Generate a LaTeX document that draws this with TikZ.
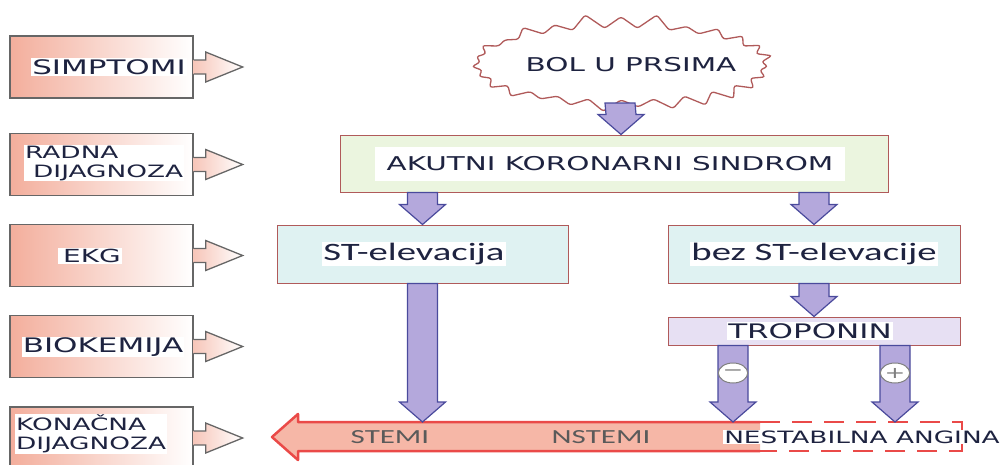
\documentclass[tikz,border=0pt]{standalone}
\usepackage{fontspec}
\setmainfont{DejaVu Sans}[FakeStretch=1.55]
\newfontfamily\califont{Carlito}[FakeStretch=1.55]
\usetikzlibrary{positioning,calc,shapes.symbols,shapes.geometric}

\definecolor{salmon}{HTML}{F3AE9C}
\definecolor{sidegray}{HTML}{666666}
\definecolor{inkblue}{HTML}{1E2340}
\definecolor{lavender}{HTML}{B4A8DC}
\definecolor{lavedge}{HTML}{4A4A9C}
\definecolor{boxred}{HTML}{B05A5A}
\definecolor{aksgreen}{HTML}{EBF5DF}
\definecolor{ekgcyan}{HTML}{DFF2F2}
\definecolor{troplilac}{HTML}{E7E0F3}
\definecolor{barred}{HTML}{EA4A48}
\definecolor{barfill}{HTML}{F6B7A7}
\definecolor{stemigray}{HTML}{5A5A5A}

\tikzset{
  sidebox/.style={draw=sidegray, line width=1.3pt, left color=salmon, right color=white,
    minimum width=183pt, minimum height=62pt, inner sep=0pt},
  sidearrow/.style={draw=sidegray, line width=1.3pt, left color=salmon!70, right color=white},
  capstext/.style={fill=white, inner sep=1pt, text=inkblue, font=\fontsize{#1}{#1}\selectfont},
  flowbox/.style={draw=boxred, line width=1pt, fill=#1, inner sep=0pt},
  fatarrow/.style={draw=lavedge, line width=1.2pt, fill=lavender},
  signmark/.style={ellipse, draw=gray, fill=white, line width=1pt, minimum width=24pt,
    minimum height=20pt, inner sep=0pt, text=gray, font=\fontsize{16}{16}\selectfont},
  barline/.style={draw=barred, line width=2.5pt},
}

% broad downward arrow from #1 to #2 (same x)
\newcommand{\fatdown}[2]{%
  \draw[fatarrow] ($(#1)+(-15,0)$) -- ($(#2)+(-15,-20)$) -- ($(#2)+(-23,-20)$) -- (#2)
    -- ($(#2)+(23,-20)$) -- ($(#2)+(15,-20)$) -- ($(#1)+(15,0)$) -- cycle;}

\begin{document}
\begin{tikzpicture}[x=1pt, y=-1pt]
\clip (0,0) rectangle (1004,464);

% left column
\node[sidebox] (simptomi) at (101.5,67) {};
\node[sidebox] (radna) at (101.5,164.5) {};
\node[sidebox] (ekg) at (101.5,255.5) {};
\node[sidebox] (biokem) at (101.5,346.5) {};
\node[sidebox] (konacna) at (101.5,438) {};

\foreach \b in {simptomi,radna,ekg,biokem,konacna}
  \draw[sidearrow] ($(\b.east)+(0,-7)$) -- ++(12,0) -- ++(0,-8) -- ++(37,15)
    -- ++(-37,15) -- ++(0,-8) -- ++(-12,0);

\node[capstext=20] (simptomitxt) at (109,67) {SIMPTOMI};
\node[capstext=17, anchor=west, align=left] (radnatxt) at (24,163) {RADNA\\[2pt]\hspace{8pt}DIJAGNOZA};
\node[capstext=18] (ekgtxt) at (90,256) {\hspace{4pt}EKG\hspace{24pt}};
\node[capstext=20] (biokemtxt) at (103,347) {BIOKEMIJA};
\node[capstext=17, anchor=west, align=left] (konacnatxt) at (15,434) {KONAČNA\\[2pt]DIJAGNOZA};

% flow
\coordinate (bar) at (0,422);
\coordinate (negc) at (733,373);
\coordinate (posc) at (895,373);

\node[starburst, starburst points=27, starburst point height=15pt, random starburst=11,
  draw=boxred, line width=1.3pt, fill=white, rounded corners=2.5pt,
  minimum width=312pt, minimum height=102pt] (bol) at (621,64) {};
\node[flowbox=aksgreen, minimum width=548pt, minimum height=57pt] (aks) at (614,163.5) {};
\node[flowbox=ekgcyan, minimum width=291pt, minimum height=58pt] (st) at (422.5,254) {};
\node[flowbox=ekgcyan, minimum width=292pt, minimum height=58pt] (bez) at (814,254) {};
\node[flowbox=troplilac, minimum width=292pt, minimum height=28pt] (trop) at (814,331) {};

% bottom scale
\fill[barfill] (272,437) -- (298,414) -- (298,422) -- (760,422) -- (760,451) -- (298,451) -- (298,460) -- cycle;
\draw[barline, line join=round] (760,422) -- (298,422) -- (298,414) -- (272,437) -- (298,460) -- (298,451) -- (760,451);
\draw[barline, dash pattern=on 20pt off 12pt] (760,422) -- (962,422) -- (962,451) -- (760,451);

\fatdown{620,103}{aks.north -| bol.south}
\fatdown{st.north |- aks.south}{st.north}
\fatdown{bez.north |- aks.south}{bez.north}
\fatdown{bez.south}{trop.north}
\fatdown{st.south}{st.south |- bar}
\fatdown{trop.south -| negc}{bar -| negc}
\fatdown{trop.south -| posc}{bar -| posc}

\node[signmark] (neg) at (negc) {−};
\node[signmark] (pos) at (posc) {+};

\node[capstext=19] (boltxt) at (631,65) {BOL U PRSIMA};
\node[capstext=19, minimum width=470pt, minimum height=34pt] (akstxt) at (610,164) {AKUTNI KORONARNI SINDROM};
\node[capstext=25, font=\califont\fontsize{25}{25}\selectfont] (sttxt) at (414,254) {ST-elevacija};
\node[capstext=25, font=\califont\fontsize{25}{25}\selectfont] (beztxt) at (814,254) {bez ST-elevacije};
\node[capstext=20] (troptxt) at (810,331) {TROPONIN};

\node[text=stemigray, font=\califont\fontsize{20}{20}\selectfont] (stemi) at (390,437) {STEMI};
\node[text=stemigray, font=\califont\fontsize{20}{20}\selectfont] (nstemi) at (601,437) {NSTEMI};
\node[capstext=17] (angina) at (862,437) {NESTABILNA ANGINA};
\end{tikzpicture}
\end{document}
